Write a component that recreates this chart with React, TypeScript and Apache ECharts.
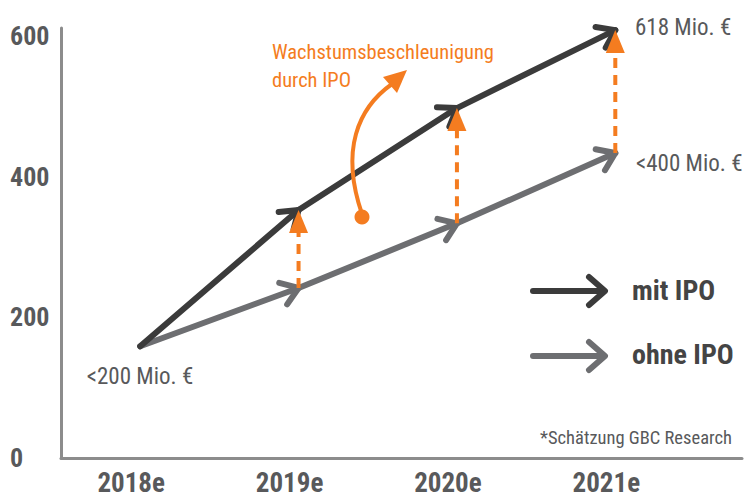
import React, { useEffect, useRef } from "react";
import * as echarts from "echarts";

const years = ["2018e", "2019e", "2020e", "2021e"];
const yearIdx = [0, 1, 2, 3];
const mitIPO = [159, 353, 498, 609];
const ohneIPO = [159, 242, 334, 434];
const yTicks = [0, 200, 400, 600];

const FONT = "'Roboto Condensed', 'PT Sans Narrow', sans-serif";
const BLACK = "#3b3b3b";
const GRAY = "#6d6e71";
const ORANGE = "#f47c20";
const TXT = "#58595b";

function arrowSeries(name: string, values: number[], color: string, z: number) {
  const pts = yearIdx.map((x, i) => [x, values[i]]);
  return {
    type: "custom",
    name,
    coordinateSystem: "cartesian2d",
    clip: false,
    z,
    data: pts,
    encode: { x: 0, y: 1 },
    renderItem: (params: any, api: any) => {
      const i = params.dataIndex;
      if (i === 0) return { type: "group", children: [] };
      const p = api.coord([api.value(0), api.value(1)]);
      const q = api.coord(pts[i - 1]);
      const dx = p[0] - q[0];
      const dy = p[1] - q[1];
      const len = Math.sqrt(dx * dx + dy * dy);
      const bx = -dx / len;
      const by = -dy / len;
      const a = (35 * Math.PI) / 180;
      const L = 20;
      const r1 = [p[0] + L * (bx * Math.cos(a) - by * Math.sin(a)), p[1] + L * (bx * Math.sin(a) + by * Math.cos(a))];
      const r2 = [p[0] + L * (bx * Math.cos(-a) - by * Math.sin(-a)), p[1] + L * (bx * Math.sin(-a) + by * Math.cos(-a))];
      return {
        type: "group",
        children: [
          {
            type: "line",
            shape: { x1: q[0], y1: q[1], x2: p[0], y2: p[1] },
            style: { stroke: color, lineWidth: 6, lineCap: "round" },
          },
          {
            type: "polyline",
            shape: { points: [r1, p, r2] },
            style: { stroke: color, lineWidth: 6, lineCap: "round", lineJoin: "round", fill: "none" },
          },
        ],
      };
    },
  };
}

function upliftSeries() {
  const data = yearIdx.slice(1).map((x) => [x, ohneIPO[x], mitIPO[x]]);
  return {
    type: "custom",
    name: "uplift",
    coordinateSystem: "cartesian2d",
    clip: false,
    z: 5,
    data,
    encode: { x: 0, y: [1, 2] },
    renderItem: (params: any, api: any) => {
      const lo = api.coord([api.value(0), api.value(1)]);
      const hi = api.coord([api.value(0), api.value(2)]);
      const headH = 23;
      const headW = 9.5;
      return {
        type: "group",
        children: [
          {
            type: "line",
            shape: { x1: lo[0], y1: lo[1], x2: hi[0], y2: hi[1] + headH - 2 },
            style: { stroke: ORANGE, lineWidth: 4, lineDash: [10, 7] },
          },
          {
            type: "polygon",
            shape: {
              points: [
                [hi[0], hi[1]],
                [hi[0] - headW, hi[1] + headH],
                [hi[0] + headW, hi[1] + headH],
              ],
            },
            style: { fill: ORANGE },
          },
        ],
      };
    },
  };
}

export default function App() {
  const ref = useRef<HTMLDivElement>(null);
  useEffect(() => {
    if (!ref.current) return;
    const chart = echarts.init(ref.current, undefined, { renderer: "svg" });
    const axisLine = { show: true, onZero: false, lineStyle: { color: "#8c8c8c", width: 3 } };
    chart.setOption({
      animation: false,
      grid: { left: 61, right: 2, top: 28, bottom: 40 },
      xAxis: {
        type: "value",
        min: -0.5,
        max: 3.8,
        interval: 0.5,
        axisLine,
        axisTick: { show: false },
        splitLine: { show: false },
        axisLabel: {
          margin: 13,
          fontFamily: FONT,
          fontSize: 27,
          lineHeight: 24,
          fontWeight: "bold",
          color: TXT,
          padding: [0, 18, 0, 0],
          showMinLabel: false,
          showMaxLabel: false,
          formatter: (v: number) => {
            const k = Math.round(v);
            return Math.abs(v - k) < 1e-6 && k >= 0 && k < years.length ? years[k] : "";
          },
        },
      },
      yAxis: {
        type: "value",
        min: 0,
        max: 612,
        interval: 200,
        axisLine,
        axisTick: { show: false },
        splitLine: { show: false },
        axisLabel: {
          align: "left",
          margin: 51,
          fontFamily: FONT,
          fontSize: 26,
          fontWeight: "bold",
          color: TXT,
          formatter: (v: number) => (yTicks.includes(v) ? String(v) : ""),
        },
      },
      series: [arrowSeries("ohne IPO", ohneIPO, GRAY, 3), arrowSeries("mit IPO", mitIPO, BLACK, 4), upliftSeries()],
      graphic: [
        { type: "text", x: 140, y: 376, style: { text: "<200 Mio. €", font: `23px ${FONT}`, fill: TXT, textAlign: "center", textVerticalAlign: "middle" } },
        { type: "text", x: 635, y: 27, style: { text: "618 Mio. €", font: `23px ${FONT}`, fill: TXT, textAlign: "left", textVerticalAlign: "middle" } },
        { type: "text", x: 636, y: 163, style: { text: "<400 Mio. €", font: `23px ${FONT}`, fill: TXT, textAlign: "left", textVerticalAlign: "middle" } },
        { type: "text", x: 272, y: 52, style: { text: "Wachstumsbeschleunigung", font: `20.5px ${FONT}`, fill: ORANGE, textAlign: "left", textVerticalAlign: "middle" } },
        { type: "text", x: 272, y: 80, style: { text: "durch IPO", font: `20.5px ${FONT}`, fill: ORANGE, textAlign: "left", textVerticalAlign: "middle" } },
        {
          type: "bezierCurve",
          shape: { x1: 362, y1: 214, cpx1: 340, cpy1: 150, cpx2: 358, cpy2: 108, x2: 392, y2: 84 },
          style: { stroke: ORANGE, lineWidth: 4, fill: "none" },
          z: 10,
        },
        { type: "polygon", shape: { points: [[407, 70], [383, 77], [397, 93]] }, style: { fill: ORANGE }, z: 10 },
        { type: "circle", shape: { cx: 362, cy: 217, r: 7.5 }, style: { fill: ORANGE }, z: 10 },
        { type: "line", shape: { x1: 533, y1: 291, x2: 603, y2: 291 }, style: { stroke: BLACK, lineWidth: 6, lineCap: "round" } },
        { type: "polyline", shape: { points: [[589, 277], [605, 291], [589, 305]] }, style: { stroke: BLACK, lineWidth: 6, lineCap: "round", lineJoin: "round", fill: "none" } },
        { type: "line", shape: { x1: 533, y1: 356, x2: 603, y2: 356 }, style: { stroke: GRAY, lineWidth: 6, lineCap: "round" } },
        { type: "polyline", shape: { points: [[589, 342], [605, 356], [589, 370]] }, style: { stroke: GRAY, lineWidth: 6, lineCap: "round", lineJoin: "round", fill: "none" } },
        { type: "text", x: 632, y: 290, style: { text: "mit IPO", font: `bold 28px ${FONT}`, fill: "#444444", textAlign: "left", textVerticalAlign: "middle" } },
        { type: "text", x: 632, y: 354, style: { text: "ohne IPO", font: `bold 28px ${FONT}`, fill: "#444444", textAlign: "left", textVerticalAlign: "middle" } },
        { type: "text", x: 540, y: 438, style: { text: "*Schätzung GBC Research", font: `18.5px ${FONT}`, fill: TXT, textAlign: "left", textVerticalAlign: "middle" } },
      ],
    });
    return () => chart.dispose();
  }, []);
  return <div ref={ref} style={{ width: 744, height: 498, position: "absolute", left: 0, top: 0 }} />;
}
